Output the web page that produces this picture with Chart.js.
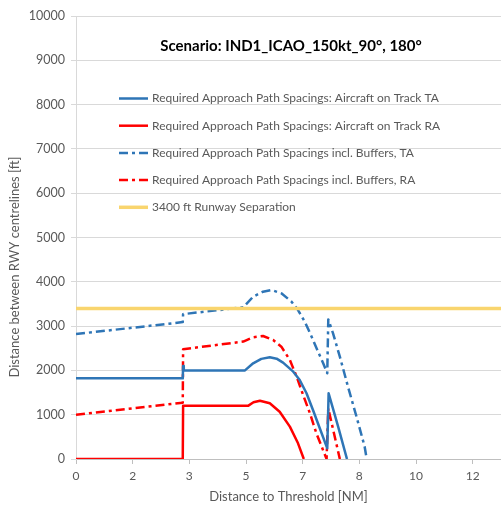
<!DOCTYPE html>
<html><head><meta charset="utf-8">
<script src="https://cdn.jsdelivr.net/npm/chart.js@4.4.1/dist/chart.umd.min.js"></script>
<style>html,body{margin:0;padding:0;background:#fff;overflow:hidden}</style>
</head><body>
<canvas id="c" width="501" height="505"></canvas>
<script>
const chartTitle = 'Scenario: IND1_ICAO_150kt_90°, 180°';
const seriesNames = [
  'Required Approach Path Spacings: Aircraft on Track TA',
  'Required Approach Path Spacings: Aircraft on Track RA',
  'Required Approach Path Spacings incl. Buffers, TA',
  'Required Approach Path Spacings incl. Buffers, RA',
  '3400 ft Runway Separation'
];
const xAxisTitle = 'Distance to Threshold [NM]';
const yAxisTitle = 'Distance between RWY centrelines [ft]';
const xTickLabels = ['0','2','3','5','7','8','10','12'];
const xTickStep = 5/3;
const xMin = 0, xMax = 12.5;
const yMin = 0, yMax = 10000, yStep = 1000;

// Aircraft on Track TA (blue solid)
const trackTA_x = [0, 3.14, 3.15, 3.17, 4.97, 5.21, 5.45, 5.70, 5.9, 6.09, 6.39, 6.58, 6.78, 6.97, 7.17, 7.39, 7.43, 7.71, 7.97];
const trackTA_y = [1820, 1820, 2100, 2000, 2000, 2160, 2260, 2295, 2265, 2175, 1971, 1783, 1483, 1106, 693, 241, 1483, 730, 0];
// Aircraft on Track RA (red solid)
const trackRA_x = [0, 3.14, 3.15, 5.06, 5.22, 5.41, 5.70, 5.99, 6.29, 6.53, 6.70];
const trackRA_y = [0, 0, 1200, 1200, 1280, 1316, 1257, 1068, 730, 354, 0];
// incl. Buffers TA (blue dash-dot)
const bufTA_x = [0, 3.14, 3.15, 4.92, 5.21, 5.50, 5.75, 6.04, 6.34, 6.53, 6.73, 6.93, 7.12, 7.27, 7.39, 7.42, 7.56, 7.76, 8.00, 8.25, 8.49, 8.55];
const bufTA_y = [2820, 3090, 3270, 3424, 3664, 3777, 3815, 3740, 3551, 3363, 3099, 2761, 2422, 2160, 1935, 3150, 2837, 2309, 1632, 955, 278, 0];
// incl. Buffers RA (red dash-dot)
const bufRA_x = [0, 3.14, 3.15, 4.92, 5.21, 5.50, 5.80, 6.04, 6.29, 6.49, 6.68, 6.88, 7.07, 7.37, 7.42, 7.76];
const bufRA_y = [1000, 1270, 2480, 2650, 2747, 2777, 2686, 2535, 2235, 1858, 1445, 1032, 580, 0, 1144, 0];
// Runway separation (yellow)
const sep_x = [0, 12.5];
const sep_y = [3400, 3400];

const pts = (xs, ys) => xs.map((x, i) => ({x, y: ys[i]}));
const BLUE = '#2E75B6', RED = '#FF0000', YEL = '#F9D56E';
const DASHDOT = [9, 4, 3, 4];

const datasets = [
  {label: seriesNames[4], data: pts(sep_x, sep_y), borderColor: YEL, borderWidth: 3.5},
  {label: seriesNames[0], data: pts(trackTA_x, trackTA_y), borderColor: BLUE, borderWidth: 2.5},
  {label: seriesNames[1], data: pts(trackRA_x, trackRA_y), borderColor: RED, borderWidth: 2.5},
  {label: seriesNames[2], data: pts(bufTA_x, bufTA_y), borderColor: BLUE, borderWidth: 2.5, borderDash: DASHDOT},
  {label: seriesNames[3], data: pts(bufRA_x, bufRA_y), borderColor: RED, borderWidth: 2.5, borderDash: DASHDOT}
];
datasets.forEach(d => { d.pointRadius = 0; d.fill = false; d.tension = 0; d.borderJoinStyle = 'round'; });

const legendOrder = [1, 2, 3, 4, 0];

const overlay = {
  id: 'overlay',
  afterDraw(chart) {
    const ctx = chart.ctx;
    ctx.save();
    ctx.fillStyle = '#000';
    ctx.font = 'bold 15px Lato';
    ctx.textAlign = 'center';
    ctx.textBaseline = 'middle';
    ctx.fillText(chartTitle, 291, 46);
    ctx.font = '12px Lato';
    ctx.textAlign = 'left';
    legendOrder.forEach((di, i) => {
      const ds = chart.data.datasets[di];
      const y = 98.5 + i * 27.2;
      ctx.beginPath();
      ctx.strokeStyle = ds.borderColor;
      ctx.lineWidth = ds.borderWidth;
      ctx.setLineDash(ds.borderDash || []);
      ctx.moveTo(119, y); ctx.lineTo(148, y);
      ctx.stroke();
      ctx.setLineDash([]);
      ctx.fillStyle = '#595959';
      ctx.fillText(ds.label, 152, y);
    });
    ctx.translate(15, 267);
    ctx.rotate(-Math.PI / 2);
    ctx.textAlign = 'center';
    ctx.font = '13px Lato';
    ctx.fillStyle = '#595959';
    ctx.fillText(yAxisTitle, 0, 0);
    ctx.restore();
  }
};

new Chart(document.getElementById('c'), {
  type: 'line',
  data: {datasets},
  plugins: [overlay],
  options: {
    responsive: false,
    animation: false,
    layout: {padding: {top: 16, right: 0, left: 0, bottom: 0}},
    plugins: {legend: {display: false}, tooltip: {enabled: false}},
    scales: {
      x: {
        type: 'linear', min: xMin, max: xMax,
        afterBuildTicks: s => { s.ticks = xTickLabels.map((t, i) => ({value: i * xTickStep})); },
        afterFit: s => { s.height = 46; },
        ticks: {callback: (v, i) => xTickLabels[i], color: '#595959', font: {family: 'Lato', size: 12}, padding: 5, maxRotation: 0, autoSkip: false},
        grid: {drawOnChartArea: false, drawTicks: true, tickLength: 5, tickColor: '#BFBFBF'},
        border: {display: true, color: '#BFBFBF'},
        title: {display: true, text: xAxisTitle, color: '#595959', font: {family: 'Lato', size: 13}, padding: {top: 0, bottom: 0}}
      },
      y: {
        min: yMin, max: yMax,
        afterFit: s => { s.width = 76; },
        ticks: {stepSize: yStep, callback: v => String(v), color: '#595959', font: {family: 'Lato', size: 12.5}, padding: 6},
        grid: {color: '#D9D9D9', tickLength: 5, tickColor: '#D9D9D9'},
        border: {display: true, color: '#D9D9D9'}
      }
    }
  }
});
</script>
</body></html>
